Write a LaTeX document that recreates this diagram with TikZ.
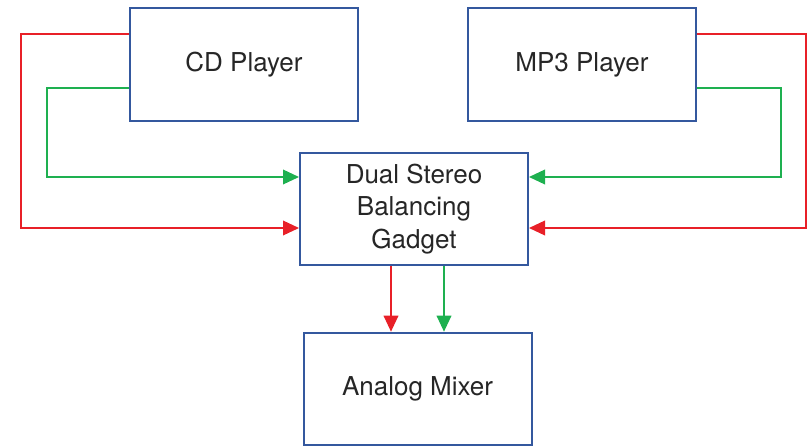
\documentclass[tikz,border=0pt]{standalone}
\usepackage{fontspec}
\setmainfont{TeX Gyre Heros}
\definecolor{boxblue}{RGB}{52,88,158}
\definecolor{sigred}{RGB}{232,32,40}
\definecolor{siggreen}{RGB}{30,176,80}
\usetikzlibrary{arrows.meta,positioning,calc}

\begin{document}
\begin{tikzpicture}[
            x=0.75pt,y=-0.75pt,
            box node/.style={rectangle,draw=boxblue,line width=1.5pt,minimum width=171pt,minimum height=84.5pt,align=center,font=\fontsize{19.5}{24.5}\selectfont,text=black!85},
            red signal/.style={draw=sigred,line width=1.1pt,-{Triangle[length=12pt,width=11pt]}},
            green signal/.style={draw=siggreen,line width=1.1pt,-{Triangle[length=12pt,width=11pt]}}
        ]
            \useasboundingbox (0,0) rectangle (808,446);

            \node[box node] (cd) at (244,64.5) {CD Player};
            \node[box node] (mp3) at (582,64.5) {MP3 Player};
            \node[box node] (gadget) at (414,209) {Dual Stereo\\Balancing\\Gadget};
            \node[box node] (mixer) at (417.5,389) {Analog Mixer};

            % left and right channels into the gadget
            \draw[red signal] ($(cd.north west)+(0,27)$) -- ++(-108,0) |- ($(gadget.west)+(0,19)$);
            \draw[green signal] ($(cd.north west)+(0,81)$) -- ++(-82,0) |- ($(gadget.west)+(0,-32)$);
            \draw[red signal] ($(mp3.north east)+(0,27)$) -- ++(109,0) |- ($(gadget.east)+(0,19)$);
            \draw[green signal] ($(mp3.north east)+(0,81)$) -- ++(84,0) |- ($(gadget.east)+(0,-32)$);

            % out to the mixer
            \coordinate (mixl) at ($(mixer.north)+(-26.5,0)$);
            \coordinate (mixr) at ($(mixer.north)+(26.5,0)$);
            \draw[red signal] (gadget.south -| mixl) -- (mixl);
            \draw[green signal] (gadget.south -| mixr) -- (mixr);
        \end{tikzpicture}
\end{document}
